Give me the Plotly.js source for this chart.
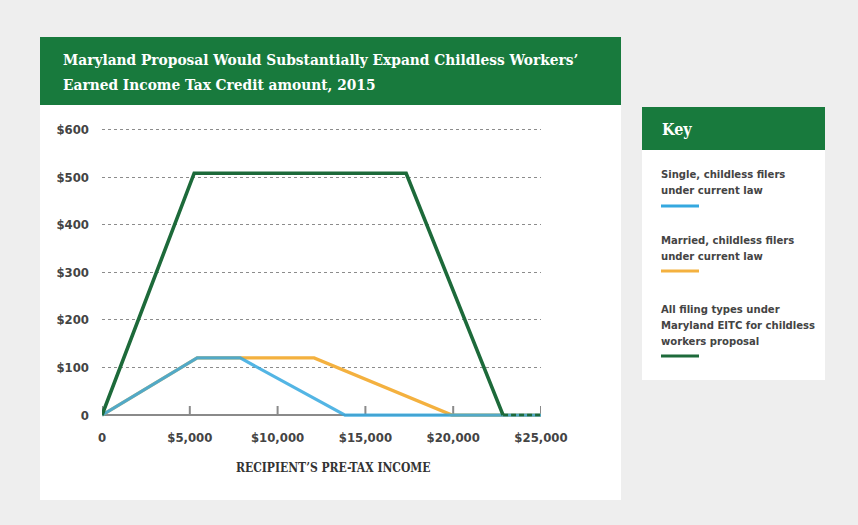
<!DOCTYPE html>
<html>
<head>
<meta charset="utf-8">
<script src="https://cdn.plot.ly/plotly-3.0.1.min.js"></script>
<style>
  html, body { margin: 0; padding: 0; background: #eeeeee; }
  #chart { width: 858px; height: 525px; }
</style>
</head>
<body>
<div id="chart"></div>
<script>
// ---- Data ----
const incomeProposal = [0, 5250, 17320, 22840, 25000];
const creditProposal = [0, 508, 508, 0, 0];
const incomeSingle   = [0, 5420, 7870, 13840, 25000];
const creditSingle   = [0, 120, 120, 0, 0];
const incomeMarried  = [0, 5420, 12080, 19930, 25000];
const creditMarried  = [0, 120, 120, 0, 0];

const xTickVals = [0, 5000, 10000, 15000, 20000, 25000];
const xTickText = ['0', '$5,000', '$10,000', '$15,000', '$20,000', '$25,000'];
const yTickVals = [0, 100, 200, 300, 400, 500, 600];
const yTickText = ['0', '$100', '$200', '$300', '$400', '$500', '$600'];

const titleLines = ["Maryland Proposal Would Substantially Expand Childless Workers’",
                    "Earned Income Tax Credit amount, 2015"];
const xTitleText = "RECIPIENT’S PRE-TAX INCOME";
const keyTitle = "Key";
const keySingle = ["Single, childless filers", "under current law"];
const keyMarried = ["Married, childless filers", "under current law"];
const keyProposal = ["All filing types under", "Maryland EITC for childless", "workers proposal"];

// ---- Styles ----
const GREEN_BANNER = '#187a3d';
const C_SINGLE = '#35a8df';
const C_MARRIED = '#f4b13f';
const C_PROPOSAL = '#1d6a3a';
const SANS = "'DejaVu Sans Condensed', 'Liberation Sans Narrow', sans-serif";
const SERIF = "'DejaVu Serif Condensed', 'DejaVu Serif', 'Liberation Serif', serif";

const W = 858, H = 525;
const M = { l: 102, r: 317, t: 128, b: 108 };
const PW = W - M.l - M.r, PH = H - M.t - M.b;
const xp = px => (px - M.l) / PW;
const yp = py => (H - M.b - py) / PH;

function rect(x0, y0, x1, y1, color) {
  return { type: 'rect', xref: 'paper', yref: 'paper', layer: 'below',
    x0: xp(x0), x1: xp(x1), y0: yp(y1), y1: yp(y0),
    fillcolor: color, line: { width: 0 } };
}
function hline(x0, x1, y, color, w) {
  return { type: 'line', xref: 'paper', yref: 'paper', layer: 'above',
    x0: xp(x0), x1: xp(x1), y0: yp(y), y1: yp(y),
    line: { color: color, width: w } };
}
function label(px, py, text, font, anchor) {
  return { xref: 'paper', yref: 'paper', x: xp(px), y: yp(py),
    xanchor: anchor || 'left', yanchor: 'middle',
    text: text, showarrow: false, align: 'left', font: font };
}

const traces = [
  { x: incomeMarried, y: creditMarried, mode: 'lines', name: 'Married, childless filers under current law',
    line: { color: C_MARRIED, width: 3.2 }, showlegend: false },
  { x: incomeSingle, y: creditSingle, mode: 'lines', name: 'Single, childless filers under current law',
    line: { color: C_SINGLE, width: 3.2 }, opacity: 0.85, showlegend: false },
  { x: incomeProposal.slice(0, 4), y: creditProposal.slice(0, 4), mode: 'lines',
    name: 'All filing types under Maryland EITC for childless workers proposal',
    line: { color: C_PROPOSAL, width: 3.6 }, showlegend: false },
  { x: incomeProposal.slice(3), y: creditProposal.slice(3), mode: 'lines',
    name: 'Proposal (zero)', line: { color: C_PROPOSAL, width: 2.5, dash: '5px,3px' },
    showlegend: false }
];

const shapes = [
  rect(40, 37, 621, 500, '#ffffff'),
  rect(40, 37, 621, 105, GREEN_BANNER),
  rect(642, 107, 825, 380, '#ffffff'),
  rect(642, 107, 825, 150, GREEN_BANNER),
  hline(661, 699, 206, C_SINGLE, 3),
  hline(661, 699, 271, C_MARRIED, 3),
  hline(661, 699, 356, C_PROPOSAL, 3)
];
// x-axis tick marks rising from the baseline, one per tick value
xTickVals.forEach(v => shapes.push({
  type: 'line', xref: 'x', yref: 'paper', layer: 'below',
  x0: v, x1: v, y0: yp(416), y1: yp(406),
  line: { color: '#8a8a8a', width: 2 }
}));

const titleFont = { family: SERIF, size: 15.3, color: '#ffffff', weight: 700 };
const keyFont = { family: SANS, size: 11.2, color: '#444444', weight: 700 };
const annotations = [
  label(61, 60, titleLines[0], titleFont),
  label(61, 85, titleLines[1], titleFont),
  label(660, 129, keyTitle, { family: SERIF, size: 16, color: '#ffffff', weight: 700 }),
  label(333, 468, xTitleText, { family: SERIF, size: 12, color: '#333333', weight: 700 }, 'center')
];
[[keySingle, 174], [keyMarried, 240], [keyProposal, 309]].forEach(([lines, y0]) => {
  lines.forEach((t, i) => annotations.push(label(659, y0 + i * 16, t, keyFont)));
});

const layout = {
  width: W, height: H,
  margin: M,
  paper_bgcolor: '#eeeeee',
  plot_bgcolor: 'rgba(0,0,0,0)',
  showlegend: false,
  xaxis: {
    range: [0, 25000],
    tickvals: xTickVals, ticktext: xTickText,
    ticks: '', showgrid: false, zeroline: false, showline: false,
    ticklabelstandoff: 11,
    tickfont: { family: SANS, size: 13, color: '#444444', weight: 700 },
    fixedrange: true
  },
  yaxis: {
    range: [-4, 603],
    tickvals: yTickVals, ticktext: yTickText,
    ticks: '', showgrid: true, gridcolor: '#8c8c8c', griddash: 'dot', gridwidth: 1,
    zeroline: true, zerolinecolor: '#8a8a8a', zerolinewidth: 2,
    showline: false, ticklabelstandoff: 12,
    tickfont: { family: SANS, size: 13, color: '#444444', weight: 700 },
    fixedrange: true
  },
  shapes: shapes,
  annotations: annotations
};

Plotly.newPlot('chart', traces, layout, { displayModeBar: false, staticPlot: true });
</script>
</body>
</html>
